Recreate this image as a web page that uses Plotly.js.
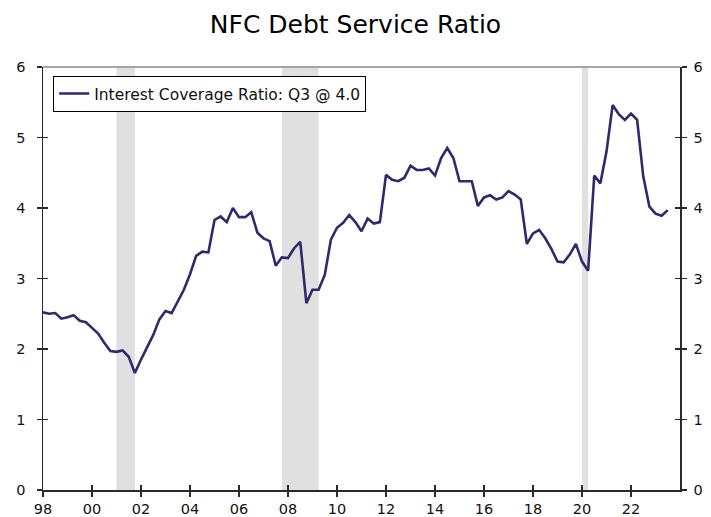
<!DOCTYPE html>
<html>
<head>
<meta charset="utf-8">
<script src="https://cdn.plot.ly/plotly-3.0.1.min.js"></script>
<style>html,body{margin:0;padding:0;background:#fff;}#chart{width:711px;height:517px;}</style>
</head>
<body>
<div id="chart"></div>
<script>
// Quarterly data, 1998 Q1 .. 2023 Q3
const startYear = 1998;
const coverageRatio = [
  2.52, 2.50, 2.51, 2.43, 2.45, 2.48, 2.40, 2.38,
  2.30, 2.22, 2.09, 1.97, 1.96, 1.98, 1.89, 1.66,
  1.85, 2.03, 2.20, 2.42, 2.54, 2.51, 2.67, 2.84,
  3.06, 3.32, 3.38, 3.37, 3.83, 3.88, 3.80, 4.00,
  3.87, 3.87, 3.94, 3.65, 3.57, 3.53, 3.18, 3.30,
  3.29, 3.43, 3.52, 2.65, 2.84, 2.84, 3.05, 3.55,
  3.72, 3.79, 3.90, 3.80, 3.67, 3.85, 3.78, 3.80,
  4.47, 4.40, 4.38, 4.43, 4.60, 4.54, 4.54, 4.56,
  4.46, 4.71, 4.85, 4.71, 4.38, 4.38, 4.38, 4.03,
  4.15, 4.18, 4.12, 4.15, 4.24, 4.19, 4.12, 3.49,
  3.64, 3.69, 3.57, 3.42, 3.24, 3.23, 3.34, 3.49,
  3.24, 3.11, 4.46, 4.35, 4.80, 5.46, 5.33, 5.25,
  5.34, 5.25, 4.45, 4.02, 3.92, 3.89, 3.97
];
const recessionStart = [2001.0, 2007.75, 2020.0];
const recessionEnd   = [2001.75, 2009.25, 2020.25];
const xTickVals = [1998, 2000, 2002, 2004, 2006, 2008, 2010, 2012, 2014, 2016, 2018, 2020, 2022];
const xTickText = ["98", "00", "02", "04", "06", "08", "10", "12", "14", "16", "18", "20", "22"];
const yTickVals = [0, 1, 2, 3, 4, 5, 6];
const seriesName = "Interest Coverage Ratio: Q3 @ 4.0";

const dates = coverageRatio.map((_, i) => startYear + i * 0.25);

const FONT = "DejaVu Sans, Verdana, sans-serif";
const AX = "#2a2a2a";
const xRange = [1998, 2024];
const yRange = [0, 6];

const traces = [
  {x: dates, y: coverageRatio, type: "scatter", mode: "lines", name: seriesName,
   line: {color: "#2f2a6e", width: 2.6}, xaxis: "x", yaxis: "y", hoverinfo: "skip"},
  {x: dates, y: coverageRatio, type: "scatter", mode: "lines", showlegend: false,
   opacity: 0, xaxis: "x", yaxis: "y2", hoverinfo: "skip"},
  {x: dates, y: coverageRatio, type: "scatter", mode: "lines", showlegend: false,
   opacity: 0, xaxis: "x2", yaxis: "y3", hoverinfo: "skip"}
];

const shapes = recessionStart.map((s, i) => ({
  type: "rect", xref: "x", yref: "paper", x0: s, x1: recessionEnd[i], y0: 0, y1: 1,
  fillcolor: "#e0e0e0", line: {width: 0}, layer: "below"
}));
shapes.push({type: "line", xref: "paper", yref: "paper", x0: 0, x1: 1, y0: 1, y1: 1,
  line: {color: "#8a8a8a", width: 1.3}});

const layout = {
  width: 711, height: 517,
  margin: {l: 43, r: 31, t: 67, b: 27},
  paper_bgcolor: "#ffffff", plot_bgcolor: "#ffffff",
  font: {family: FONT, size: 14, color: "#111"},
  title: {text: "NFC Debt Service Ratio", font: {family: FONT, size: 25, color: "#000"},
          x: 0.5, xanchor: "center", y: 0.9536, yanchor: "middle"},
  showlegend: true,
  legend: {x: 0.016, y: 0.979, xanchor: "left", yanchor: "top",
           bgcolor: "#ffffff", bordercolor: "#000", borderwidth: 1,
           font: {family: FONT, size: 15.5, color: "#111"}, itemwidth: 30},
  xaxis: {range: xRange, tickvals: xTickVals, ticktext: xTickText,
          ticks: "outside", ticklen: 5, tickwidth: 1.3, tickcolor: AX,
          showline: true, linecolor: AX, linewidth: 1.5, showgrid: false, zeroline: false,
          tickfont: {family: FONT, size: 14.5, color: "#111"}, fixedrange: true},
  xaxis2: {range: xRange, overlaying: "x", anchor: "y3", tickvals: xTickVals,
           ticks: "inside", ticklen: 5, tickwidth: 1.3, tickcolor: AX,
           showticklabels: false, showline: false, showgrid: false, zeroline: false},
  yaxis: {range: yRange, tickvals: yTickVals, ticks: "outside", ticklen: 5, tickwidth: 1.3,
          tickcolor: AX, showline: true, linecolor: AX, linewidth: 1.5, showgrid: false,
          zeroline: false, ticklabelstandoff: 8,
          tickfont: {family: FONT, size: 14.5, color: "#111"}},
  yaxis2: {range: yRange, tickvals: yTickVals, overlaying: "y", side: "right", anchor: "x",
           ticks: "outside", ticklen: 5, tickwidth: 1.3, tickcolor: AX,
           showline: true, linecolor: AX, linewidth: 1.5, showgrid: false, zeroline: false,
           ticklabelstandoff: 4, tickfont: {family: FONT, size: 14.5, color: "#111"}},
  yaxis3: {range: yRange, tickvals: yTickVals, overlaying: "y", anchor: "x2",
           ticks: "inside", ticklen: 5, tickwidth: 1.3, tickcolor: AX, mirror: "ticks",
           showticklabels: false, showline: false, showgrid: false, zeroline: false},
  shapes: shapes
};

Plotly.newPlot("chart", traces, layout, {staticPlot: true, displayModeBar: false});
</script>
</body>
</html>
